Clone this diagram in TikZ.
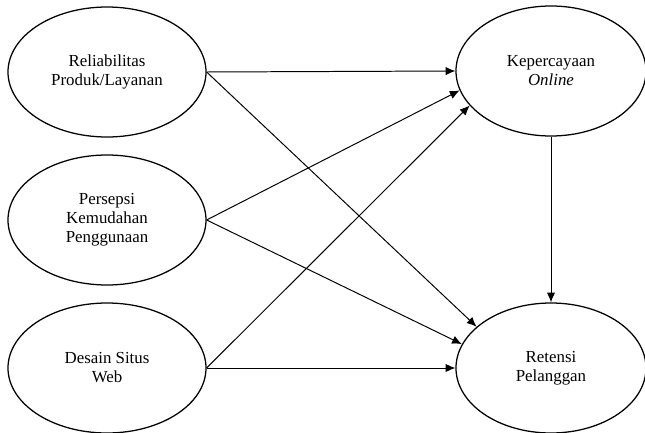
\documentclass[tikz,border=0pt]{standalone}
\usepackage{fontspec}
\setmainfont{Liberation Serif}
\usetikzlibrary{shapes.geometric,arrows.meta}

\begin{document}
\begin{tikzpicture}[
  construct/.style={draw,ellipse,line width=0.9pt,inner sep=0pt,minimum height=3.25cm,align=center,font=\fontsize{12}{13.5}\selectfont},
  leftvar/.style={construct,minimum width=4.95cm},
  rightvar/.style={construct,minimum width=4.75cm},
  path/.style={line width=0.7pt,-{Latex[length=7pt,width=6pt]}}]
\useasboundingbox (0.000,0.000) rectangle (16.125,-10.825);
\node[leftvar] (rel) at (2.675,-1.800) {Reliabilitas\\Produk/Layanan};
\node[leftvar] (pers) at (2.675,-5.500) {Persepsi\\Kemudahan\\Penggunaan};
\node[leftvar] (desain) at (2.675,-9.200) {Desain Situs\\Web};
\node[rightvar] (kep) at (13.775,-1.775) {Kepercayaan\\\textit{Online}};
\node[rightvar] (ret) at (13.775,-9.200) {Retensi\\Pelanggan};
\draw[path] (rel.east) -- (kep.west);
\draw[path] (rel.east) -- (ret.151);
\draw[path] (pers.east) -- (kep.192);
\draw[path] (pers.east) -- (ret.165);
\draw[path] (desain.east) -- (kep.203);
\draw[path] (desain.east) -- (ret.west);
\draw[path] (kep.south) -- (ret.north);
\end{tikzpicture}
\end{document}
